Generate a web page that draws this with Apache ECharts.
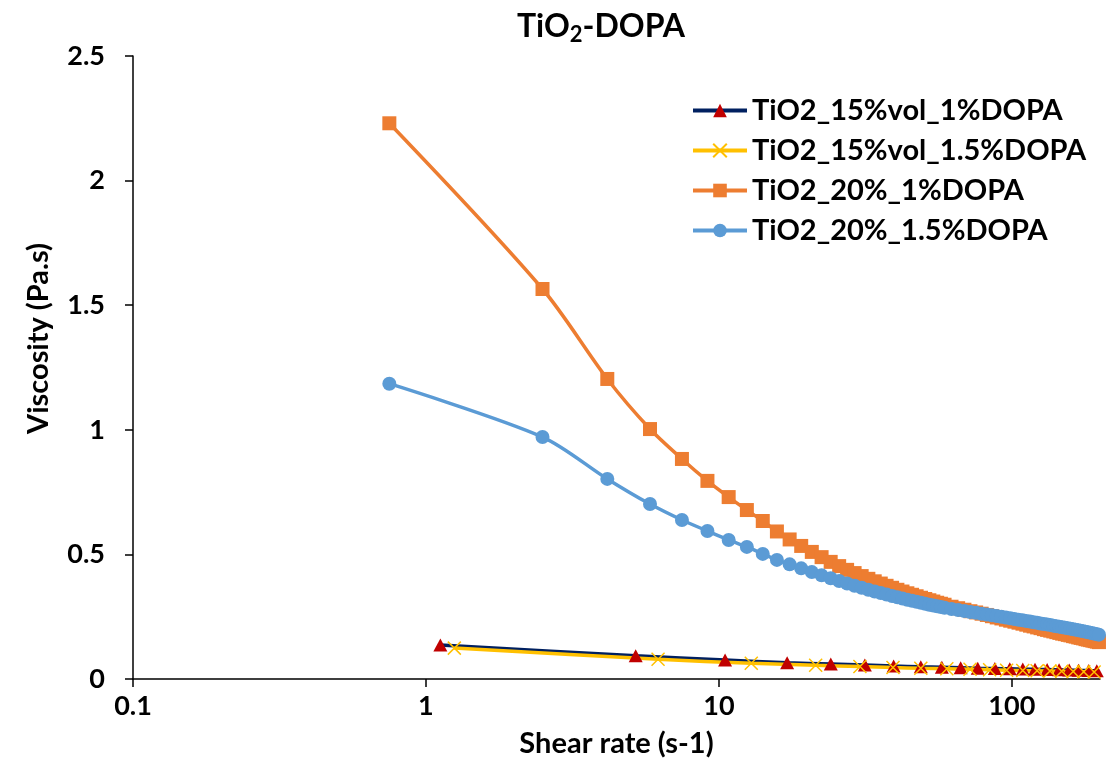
<!DOCTYPE html>
<html>
<head>
<meta charset="utf-8">
<script src="https://cdn.jsdelivr.net/npm/echarts@6/dist/echarts.min.js"></script>
<style>
  html, body { margin: 0; padding: 0; background: #fff; }
  #chart { width: 1115px; height: 765px; }
</style>
</head>
<body>
<div id="chart"></div>
<script>
// TiO2_15%vol_1%DOPA
var rate15_1 = [1.12, 5.2, 10.5, 17.1, 24.1, 31.5, 39.5, 48.9, 57.7, 66.9, 76.5, 87.5, 98.4, 109, 120, 132, 145, 157, 169, 183, 195];
var visc15_1 = [0.136, 0.093, 0.076, 0.065, 0.060, 0.056, 0.052, 0.049, 0.047, 0.045, 0.043, 0.042, 0.041, 0.040, 0.039, 0.038, 0.037, 0.036, 0.035, 0.034, 0.033];

// TiO2_15%vol_1.5%DOPA
var rate15_15 = [1.25, 6.2, 12.9, 21.4, 30.3, 39.3, 48.9, 60, 72, 84, 96, 109, 122, 135, 148, 162, 176, 191];
var visc15_15 = [0.124, 0.079, 0.063, 0.055, 0.050, 0.046, 0.043, 0.041, 0.039, 0.037, 0.035, 0.034, 0.033, 0.032, 0.031, 0.030, 0.029, 0.028];

// TiO2_20% series share the same shear rates
var rate20 = [0.75, 2.50, 4.16, 5.82, 7.48, 9.14, 10.80, 12.46, 14.12, 15.78, 17.44, 19.10, 20.76, 22.42, 24.08, 25.74, 27.40, 29.06,
  30.72, 32.38, 34.04, 35.70, 37.36, 39.02, 40.68, 42.34, 44.00, 45.66, 47.32, 48.98, 50.64, 52.30, 53.96, 55.62, 57.28, 58.94,
  62.26, 65.58, 68.90, 72.22, 75.54, 78.86, 82.18, 85.50, 88.82, 92.14, 95.46, 98.78, 102.10, 105.42, 108.74, 112.06, 115.38, 118.70,
  122.02, 125.34, 128.66, 131.98, 135.30, 138.62, 141.94, 145.26, 148.58, 151.90, 155.22, 158.54, 161.86, 165.18, 168.50, 171.82,
  175.14, 178.46, 181.78, 185.10, 188.42, 191.74, 195.06, 198.38];
var visc20_1 = [2.230, 1.565, 1.204, 1.003, 0.883, 0.795, 0.730, 0.678, 0.634, 0.592, 0.560, 0.534, 0.510, 0.489, 0.470, 0.453, 0.438, 0.425,
  0.413, 0.402, 0.392, 0.383, 0.374, 0.366, 0.358, 0.351, 0.344, 0.338, 0.332, 0.326, 0.321, 0.316, 0.311, 0.306, 0.302, 0.298,
  0.290, 0.284, 0.278, 0.272, 0.267, 0.262, 0.257, 0.252, 0.247, 0.243, 0.238, 0.234, 0.230, 0.226, 0.222, 0.218, 0.214, 0.211,
  0.207, 0.204, 0.200, 0.197, 0.194, 0.191, 0.188, 0.185, 0.182, 0.180, 0.177, 0.175, 0.172, 0.170, 0.167, 0.165,
  0.163, 0.160, 0.158, 0.156, 0.154, 0.152, 0.150, 0.148];
var visc20_15 = [1.185, 0.971, 0.803, 0.702, 0.638, 0.594, 0.558, 0.530, 0.502, 0.478, 0.460, 0.444, 0.429, 0.416, 0.404, 0.393, 0.383, 0.374,
  0.366, 0.358, 0.351, 0.345, 0.339, 0.333, 0.328, 0.323, 0.318, 0.314, 0.310, 0.306, 0.302, 0.298, 0.295, 0.292, 0.289, 0.286,
  0.281, 0.277, 0.273, 0.269, 0.266, 0.262, 0.259, 0.256, 0.253, 0.250, 0.247, 0.244, 0.241, 0.238, 0.236, 0.233, 0.231, 0.228,
  0.226, 0.223, 0.221, 0.219, 0.217, 0.214, 0.212, 0.210, 0.208, 0.206, 0.204, 0.202, 0.200, 0.198, 0.196, 0.194,
  0.192, 0.190, 0.188, 0.186, 0.184, 0.182, 0.180, 0.178];

var xTicks = [0.1, 1, 10, 100];
var yTicks = [0, 0.5, 1, 1.5, 2, 2.5];

var FONT = "Lato";

function pairs(xs, ys) {
  return xs.map(function (x, i) { return [x, ys[i]]; });
}

var chart = echarts.init(document.getElementById("chart"));

var option = {
  animation: false,
  title: {
    text: "{a|TiO}{s|2}{a|-DOPA}",
    left: 596,
    top: 2,
    textAlign: "center",
    textStyle: {
      rich: {
        a: { fontFamily: FONT, fontWeight: "bold", fontSize: 32, color: "#000" },
        s: { fontFamily: FONT, fontWeight: "bold", fontSize: 22, color: "#000", padding: [17, 0, 0, 0] }
      }
    }
  },
  legend: {
    orient: "vertical",
    left: 686,
    top: 91,
    itemWidth: 54,
    itemHeight: 17,
    itemGap: 11,
    lineStyle: { width: 4 },
    textStyle: { fontFamily: FONT, fontWeight: "bold", fontSize: 29, color: "#000" },
    data: ["TiO2_15%vol_1%DOPA", "TiO2_15%vol_1.5%DOPA", "TiO2_20%_1%DOPA", "TiO2_20%_1.5%DOPA"]
  },
  grid: { left: 133, right: 15, top: 56, bottom: 86 },
  xAxis: {
    type: "log",
    logBase: 10,
    min: 0.1,
    max: 200,
    name: "Shear rate (s-1)",
    nameLocation: "middle",
    nameGap: 50,
    nameTextStyle: { fontFamily: FONT, fontWeight: "bold", fontSize: 29, color: "#000" },
    axisLine: { lineStyle: { color: "#000", width: 1.5 } },
    axisTick: { length: 8, lineStyle: { color: "#000", width: 1.5 }, customValues: xTicks },
    axisLabel: {
      customValues: xTicks,
      margin: 14,
      fontFamily: FONT, fontWeight: "bold", fontSize: 27, color: "#000",
      formatter: function (v) { return xTicks.indexOf(v) >= 0 ? String(v) : ""; }
    },
    splitLine: { show: false }
  },
  yAxis: {
    type: "value",
    min: 0,
    max: 2.5,
    interval: 0.5,
    name: "Viscosity (Pa.s)",
    nameLocation: "middle",
    nameGap: 80,
    nameTextStyle: { fontFamily: FONT, fontWeight: "bold", fontSize: 29, color: "#000", padding: [0, 0, 0, 58] },
    axisLine: { show: true, lineStyle: { color: "#000", width: 1.5 } },
    axisTick: { show: true, length: 8, lineStyle: { color: "#000", width: 1.5 } },
    axisLabel: {
      margin: 28,
      fontFamily: FONT, fontWeight: "bold", fontSize: 27, color: "#000",
      formatter: function (v) { return yTicks.indexOf(v) >= 0 ? String(v) : ""; }
    },
    splitLine: { show: false }
  },
  series: [
    {
      name: "TiO2_15%vol_1%DOPA",
      type: "line",
      smooth: 0.3,
      data: pairs(rate15_1, visc15_1),
      symbol: "triangle",
      symbolSize: [14, 13],
      itemStyle: { color: "#C00000" },
      lineStyle: { color: "#002060", width: 3.5 }
    },
    {
      name: "TiO2_15%vol_1.5%DOPA",
      type: "line",
      smooth: 0.3,
      data: pairs(rate15_15, visc15_15),
      symbol: "path://M0,0L10,10M10,0L0,10",
      symbolSize: 13,
      itemStyle: { color: "rgba(0,0,0,0)", borderColor: "#FFC000", borderWidth: 1.5 },
      lineStyle: { color: "#FFC000", width: 3.5 }
    },
    {
      name: "TiO2_20%_1%DOPA",
      type: "line",
      smooth: 0.3,
      data: pairs(rate20, visc20_1),
      symbol: "rect",
      symbolSize: 14,
      itemStyle: { color: "#ED7D31" },
      lineStyle: { color: "#ED7D31", width: 3.5 }
    },
    {
      name: "TiO2_20%_1.5%DOPA",
      type: "line",
      smooth: 0.3,
      data: pairs(rate20, visc20_15),
      symbol: "circle",
      symbolSize: 14,
      itemStyle: { color: "#5B9BD5" },
      lineStyle: { color: "#5B9BD5", width: 3.5 }
    }
  ]
};

chart.setOption(option);
</script>
</body>
</html>
